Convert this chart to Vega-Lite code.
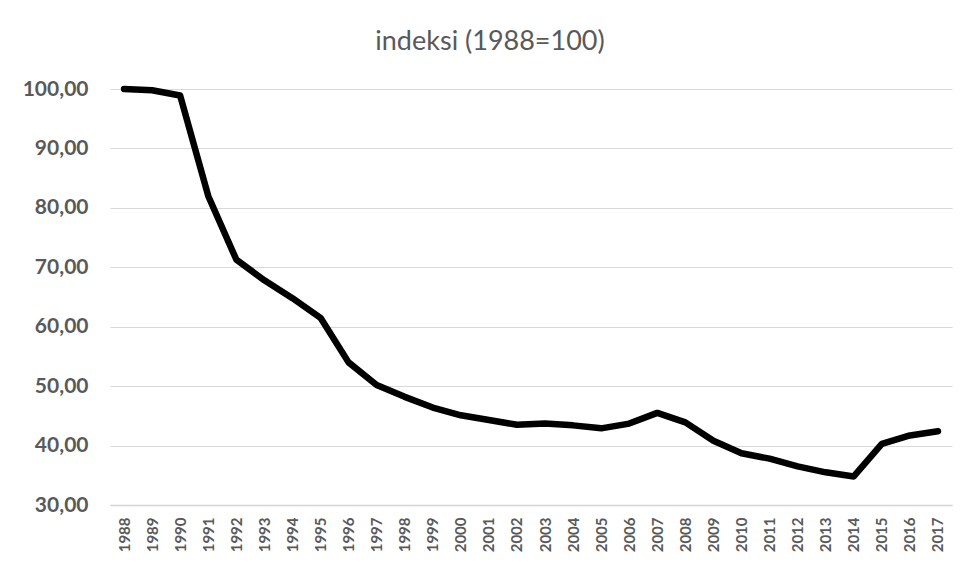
{
  "$schema": "https://vega.github.io/schema/vega-lite/v6.json",
  "width": 842,
  "height": 416,
  "autosize": {"type": "none"},
  "padding": {"left": 110, "top": 89, "right": 19, "bottom": 61},
  "background": "white",
  "title": {
    "text": "indeksi (1988=100)",
    "fontSize": 27,
    "font": "Lato",
    "fontWeight": "normal",
    "color": "#595959",
    "anchor": "middle",
    "dx": -41,
    "offset": 22
  },
  "data": {
    "values": [
      {"year": "1988", "value": 100.0},
      {"year": "1989", "value": 99.8},
      {"year": "1990", "value": 98.9},
      {"year": "1991", "value": 82.0},
      {"year": "1992", "value": 71.3},
      {"year": "1993", "value": 67.8},
      {"year": "1994", "value": 64.8},
      {"year": "1995", "value": 61.5},
      {"year": "1996", "value": 54.0},
      {"year": "1997", "value": 50.2},
      {"year": "1998", "value": 48.2},
      {"year": "1999", "value": 46.4},
      {"year": "2000", "value": 45.1},
      {"year": "2001", "value": 44.3},
      {"year": "2002", "value": 43.5},
      {"year": "2003", "value": 43.7},
      {"year": "2004", "value": 43.4},
      {"year": "2005", "value": 42.9},
      {"year": "2006", "value": 43.7},
      {"year": "2007", "value": 45.5},
      {"year": "2008", "value": 43.9},
      {"year": "2009", "value": 40.8},
      {"year": "2010", "value": 38.7},
      {"year": "2011", "value": 37.8},
      {"year": "2012", "value": 36.5},
      {"year": "2013", "value": 35.5},
      {"year": "2014", "value": 34.8},
      {"year": "2015", "value": 40.3},
      {"year": "2016", "value": 41.7},
      {"year": "2017", "value": 42.4}
    ]
  },
  "mark": {"type": "line", "color": "black", "strokeWidth": 6.5, "strokeCap": "round", "strokeJoin": "round"},
  "encoding": {
    "x": {
      "field": "year",
      "type": "ordinal",
      "scale": {"type": "point", "padding": 0.5},
      "axis": {
        "title": null,
        "labelAngle": -90,
        "labelFont": "Lato",
        "labelFontSize": 15,
        "labelFontWeight": "bold",
        "labelColor": "#595959",
        "labelPadding": 12,
        "ticks": false,
        "domain": true,
        "domainColor": "#d4d4d4",
        "domainWidth": 1.5,
        "grid": false
      }
    },
    "y": {
      "field": "value",
      "type": "quantitative",
      "scale": {"domain": [30, 100], "nice": false, "zero": false},
      "axis": {
        "title": null,
        "values": [30, 40, 50, 60, 70, 80, 90, 100],
        "labelExpr": "replace(format(datum.value, '.2f'), '.', ',')",
        "labelFont": "Lato",
        "labelFontSize": 21,
        "labelFontWeight": "bold",
        "labelColor": "#595959",
        "labelPadding": 22,
        "ticks": false,
        "domain": false,
        "grid": true,
        "gridColor": "#d9d9d9",
        "gridWidth": 1
      }
    }
  },
  "config": {
    "view": {"stroke": null}
  }
}
